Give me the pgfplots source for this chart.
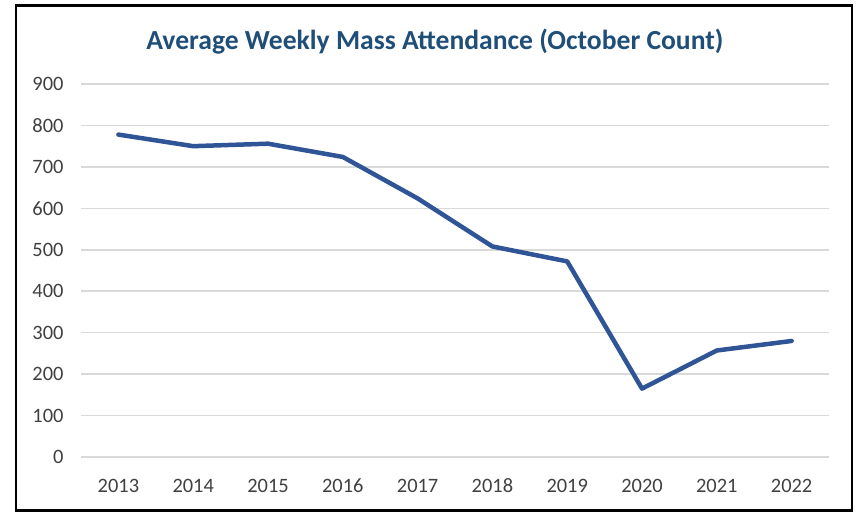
\documentclass[border=0pt]{standalone}
\usepackage{pgfplots}
\pgfplotsset{compat=1.18}
\usepackage{fontspec}
\setmainfont{Carlito}
\definecolor{linec}{RGB}{47,85,151}
\definecolor{titlec}{RGB}{31,78,121}
\definecolor{gridc}{RGB}{217,217,217}
\definecolor{tickc}{RGB}{64,64,64}
\begin{document}
\begin{tikzpicture}[x=1bp,y=1bp]
\useasboundingbox (0,0) rectangle (856,-512);
\draw[black, line width=2.5bp] (16,-5.5) rectangle (852,-510.5);
\node[font=\fontsize{27.7}{32}\selectfont\bfseries, text=titlec] at (435,-42) {Average Weekly Mass Attendance (October Count)};
\begin{axis}[
  at={(81bp,-457bp)}, anchor=south west,
  scale only axis, width=748bp, height=373bp,
  xmin=-0.5, xmax=9.5, ymin=0, ymax=900,
  ytick={0,100,...,900},
  xtick={0,...,9},
  xticklabels={2013,2014,2015,2016,2017,2018,2019,2020,2021,2022},
  axis line style={draw=none},
  major tick length=0pt,
  ymajorgrids,
  grid style={gridc, line width=1.5bp},
  tick label style={font=\fontsize{20.5}{24}\selectfont, text=tickc},
  /pgf/number format/assume math mode=true,
  yticklabel style={xshift=-14bp},
  xticklabel style={anchor=base, yshift=-35bp},
  clip=false,
]
\addplot[linec, line width=4.5bp, line join=round, line cap=round] coordinates {
(0,778) (1,750) (2,756) (3,724) (4,624) (5,508) (6,472) (7,165) (8,257) (9,280)
};
\end{axis}
\end{tikzpicture}
\end{document}
